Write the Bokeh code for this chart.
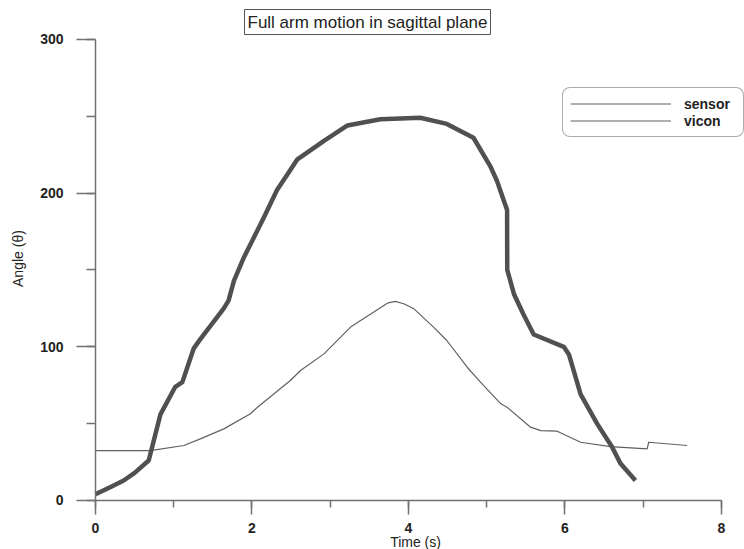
import math
from bokeh.plotting import figure
from bokeh.models import (Range1d, SingleIntervalTicker, Label, Legend, LegendItem)
from bokeh.embed import file_html
from bokeh.resources import INLINE

# ---- data ----
vicon_t = [0.0, 0.2, 0.36, 0.5, 0.68, 0.725, 0.83, 1.02, 1.11, 1.256, 1.34, 1.64, 1.70,
           1.77, 1.895, 2.15, 2.32, 2.49, 2.58, 2.92, 3.22, 3.64, 4.15, 4.49, 4.83, 5.05,
           5.13, 5.26, 5.262, 5.35, 5.47, 5.60, 5.985, 6.05, 6.20, 6.41, 6.60, 6.71, 6.90]
vicon = [4, 9, 13, 18, 26, 35, 56, 74, 77, 99, 105, 125, 130,
         143, 158, 184, 202, 215, 222, 234, 244, 248, 249, 245, 236, 217,
         208, 189, 150, 134, 121, 108, 100, 95, 69, 50, 35, 24, 13]

sensor_t = [0.0, 0.70, 1.13, 1.34, 1.64, 1.98, 2.07, 2.36, 2.49, 2.62, 2.92, 3.26, 3.73,
            3.83, 3.94, 4.07, 4.32, 4.49, 4.75, 4.92, 5.18, 5.26, 5.56, 5.69, 5.90, 6.20,
            6.58, 7.05, 7.07, 7.56]
sensor = [32.5, 32.5, 35.8, 40.1, 46.6, 56.4, 60.7, 72.7, 78.1, 84.6, 95.4, 112.8, 128.4,
          129.5, 128.0, 124.7, 112.8, 104.1, 86.7, 77.0, 62.9, 60.7, 47.7, 45.5, 45.1, 37.9,
          35.1, 33.6, 37.9, 35.8]

series_names = ["sensor", "vicon"]
title_text = "Full arm motion in sagittal plane"
x_label = "Time (s)"
y_label = "Angle (\u03b8)"

FONT = "Liberation Sans"
AXIS_COLOR = "#707070"
TEXT_COLOR = "#222222"

# frame covers the whole figure; axes are fixed at 0 and limited by bounds
p = figure(width=744, height=549, output_backend="svg", toolbar_location=None,
           x_range=Range1d(-1.214, 8.294), y_range=Range1d(-31.88, 325.3),
           min_border_left=0, min_border_right=0, min_border_top=0, min_border_bottom=0)
p.outline_line_color = None
p.grid.visible = False
p.background_fill_color = "white"
p.border_fill_color = "white"

# x axis
xa = p.xaxis[0]
xa.fixed_location = 0
xa.bounds = (0, 8)
xa.ticker = SingleIntervalTicker(interval=2, num_minor_ticks=2)
xa.axis_line_color = AXIS_COLOR
xa.axis_line_width = 1.5
xa.major_tick_line_color = AXIS_COLOR
xa.major_tick_line_width = 1.5
xa.minor_tick_line_color = AXIS_COLOR
xa.minor_tick_line_width = 1.5
xa.major_tick_in = 0
xa.major_tick_out = 14
xa.minor_tick_in = 0
xa.minor_tick_out = 7
xa.major_label_standoff = 9
xa.major_label_text_font = FONT
xa.major_label_text_font_size = "14px"
xa.major_label_text_font_style = "bold"
xa.major_label_text_color = TEXT_COLOR

# y axis
ya = p.yaxis[0]
ya.fixed_location = 0
ya.bounds = (0, 300)
ya.ticker = SingleIntervalTicker(interval=100, num_minor_ticks=2)
ya.axis_line_color = AXIS_COLOR
ya.axis_line_width = 1.5
ya.major_tick_line_color = AXIS_COLOR
ya.major_tick_line_width = 1.5
ya.minor_tick_line_color = AXIS_COLOR
ya.minor_tick_line_width = 1.5
ya.major_tick_in = 0
ya.major_tick_out = 19
ya.minor_tick_in = 0
ya.minor_tick_out = 9
ya.major_label_standoff = 13
ya.major_label_text_font = FONT
ya.major_label_text_font_size = "14px"
ya.major_label_text_font_style = "bold"
ya.major_label_text_color = TEXT_COLOR

# data lines
r_sensor = p.line(sensor_t, sensor, line_color="#606060", line_width=1.2)
r_vicon = p.line(vicon_t, vicon, line_color="#505050", line_width=4.5, line_join="round")

# legend: both samples drawn as thin lines, as in the reference
legend = Legend(items=[LegendItem(label=series_names[0], renderers=[r_sensor]),
                       LegendItem(label=series_names[1], renderers=[r_sensor])],
                location=(562, 412), margin=0, padding=7, spacing=0,
                glyph_width=101, glyph_height=17, label_height=17, label_standoff=13,
                label_width=52,
                label_text_font=FONT, label_text_font_size="14px",
                label_text_font_style="bold", label_text_color=TEXT_COLOR,
                border_line_color="#555555", border_line_width=1,
                background_fill_color="white", background_fill_alpha=1)
if "border_radius" in Legend.properties():
    legend.border_radius = 8
p.add_layout(legend, "center")

# title in a box
title = Label(x=3.476, y=311.3, text=title_text, text_align="center", text_baseline="middle",
              text_font=FONT, text_font_size="17px", text_color=TEXT_COLOR,
              border_line_color="#555555", border_line_width=1,
              background_fill_color="white", padding=3)
p.add_layout(title)

# x axis label
xl = Label(x=4.09, y=-26.7, text=x_label, text_align="center", text_baseline="middle",
           text_font=FONT, text_font_size="14px", text_color=TEXT_COLOR)
p.add_layout(xl)

# y axis label (rotated)
yl = Label(x=-0.99, y=157.4, text=y_label, text_align="center", text_baseline="middle",
           angle=math.pi / 2, text_font=FONT, text_font_size="14px", text_color=TEXT_COLOR)
p.add_layout(yl)

open("out.html", "w").write(file_html(p, INLINE))
